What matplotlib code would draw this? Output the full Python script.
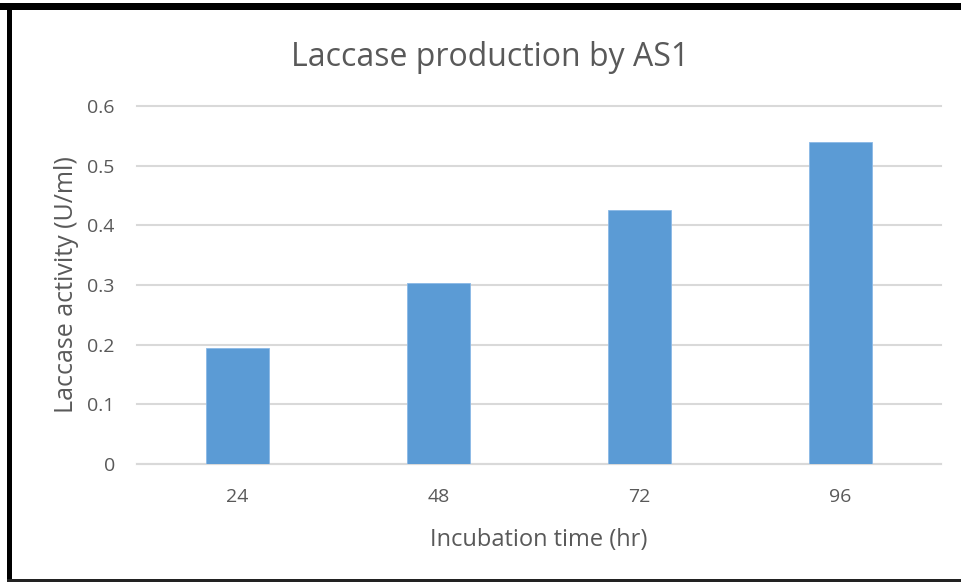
import matplotlib
matplotlib.use("Agg")
import matplotlib.pyplot as plt
from matplotlib.patches import Rectangle

plt.rcParams["font.family"] = ["Open Sans", "DejaVu Sans"]

# Data
hours = ["24", "48", "72", "96"]
activity = [0.195, 0.304, 0.426, 0.540]
y_ticks = [0, 0.1, 0.2, 0.3, 0.4, 0.5, 0.6]
y_tick_labels = ["0", "0.1", "0.2", "0.3", "0.4", "0.5", "0.6"]

W, H = 961, 582
fig = plt.figure(figsize=(W / 100, H / 100), dpi=100)
fig.patch.set_facecolor("white")

# Outer black frame (top, left, bottom; no right edge)
fig.patches.append(Rectangle((0, 1 - 10 / H), 1, 7 / H, transform=fig.transFigure,
                             facecolor="black", edgecolor="none"))
fig.patches.append(Rectangle((7 / W, 0), 5 / W, 1 - 3 / H, transform=fig.transFigure,
                             facecolor="black", edgecolor="none"))
fig.patches.append(Rectangle((7 / W, 0), 1, 3 / H, transform=fig.transFigure,
                             facecolor="#222222", edgecolor="none"))

ax = fig.add_axes([137 / W, 1 - 464 / H, (941 - 137) / W, (464 - 106) / H])

x = range(len(hours))
ax.bar(x, activity, width=0.31, color="#5B9BD5", edgecolor="#8AB8E6", linewidth=0.6, zorder=3)

ax.set_xlim(-0.5, len(hours) - 0.5)
ax.set_ylim(0, 0.6)
ax.set_xticks(list(x))
ax.set_xticklabels(hours)
ax.set_yticks(y_ticks)
ax.set_yticklabels(y_tick_labels)

ax.grid(axis="y", color="#D9D9D9", linewidth=1.5, zorder=0)
for line in ax.get_ygridlines():
    line.set_clip_on(False)
for s in ["top", "right", "left"]:
    ax.spines[s].set_visible(False)
ax.spines["bottom"].set_color("#D9D9D9")
ax.spines["bottom"].set_linewidth(1.5)
ax.tick_params(axis="both", length=0, colors="#595959", labelsize=14)
ax.tick_params(axis="x", pad=17)
ax.tick_params(axis="y", pad=16)

ax.set_xlabel("Incubation time (hr)", fontsize=17, color="#595959", labelpad=16)
ax.set_ylabel("Laccase activity (U/ml)", fontsize=18, color="#595959", labelpad=6)
fig.text(490 / W, 1 - 57 / H, "Laccase production by AS1", ha="center", va="center",
         fontsize=23, color="#595959")

fig.savefig("out.png", dpi=100)
